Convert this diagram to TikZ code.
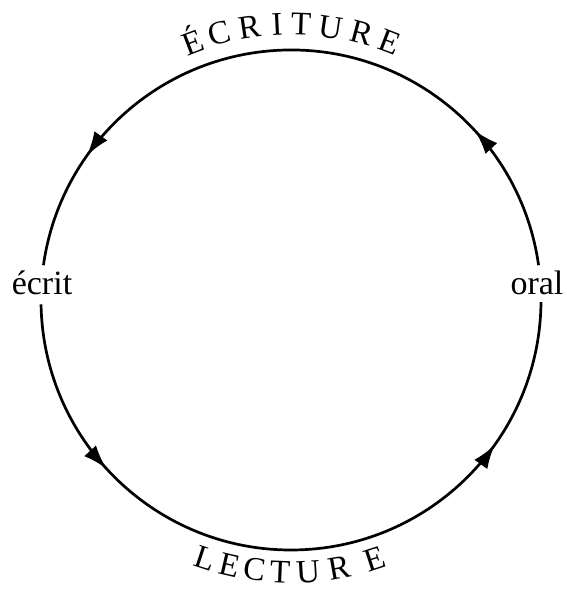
\documentclass[tikz,border=0pt]{standalone}
\usepackage{fontspec}
\setmainfont{Liberation Serif}
\usetikzlibrary{arrows.meta,decorations.markings}
\tikzset{
  ring/.style={line width=2.7pt, draw=black},
  tipat/.style={postaction={decorate,decoration={markings,
      mark=at position #1 with {\arrow{Latex[length=24pt,width=16pt]}}}}},
  lab/.style={font=\fontsize{34}{38}\selectfont, inner sep=0pt},
  capt/.style={font=\fontsize{33}{36}\selectfont, inner sep=0pt, anchor=base},
}
\begin{document}
\begin{tikzpicture}[x=1pt,y=1pt]
\useasboundingbox (0,0) rectangle (566,589);
\coordinate (O) at (291,289);
% upper arc: oral -> ecrit
\draw[ring,tipat=0.211,tipat=0.8335] ([shift={(8:250)}]O) arc[start angle=8,end angle=172,radius=250pt];
% lower arc: ecrit -> oral
\draw[ring,tipat=0.2319,tipat=0.8045] ([shift={(181:250)}]O) arc[start angle=181,end angle=359.5,radius=250pt];
% side labels
\node[lab] (ecrit) at (42,306) {écrit};
\node[lab] (oral) at (537,306) {oral};
% top caption
\foreach \l/\a [count=\i] in {É/110.9,C/105,R/98.6,I/92.9,T/87.9,U/81.6,R/75.2,E/69}{
  \node[capt,rotate=\a-90] (top\i) at ([shift={(\a:265)}]O) {\l};
}
% bottom caption
\foreach \l/\a [count=\i] in {L/251.7,E/256.9,C/262.3,T/267.7,U/273.6,R/280.2,E/288}{
  \node[capt,rotate=\a+90] (bot\i) at ([shift={(\a:283)}]O) {\l};
}
\end{tikzpicture}
\end{document}
